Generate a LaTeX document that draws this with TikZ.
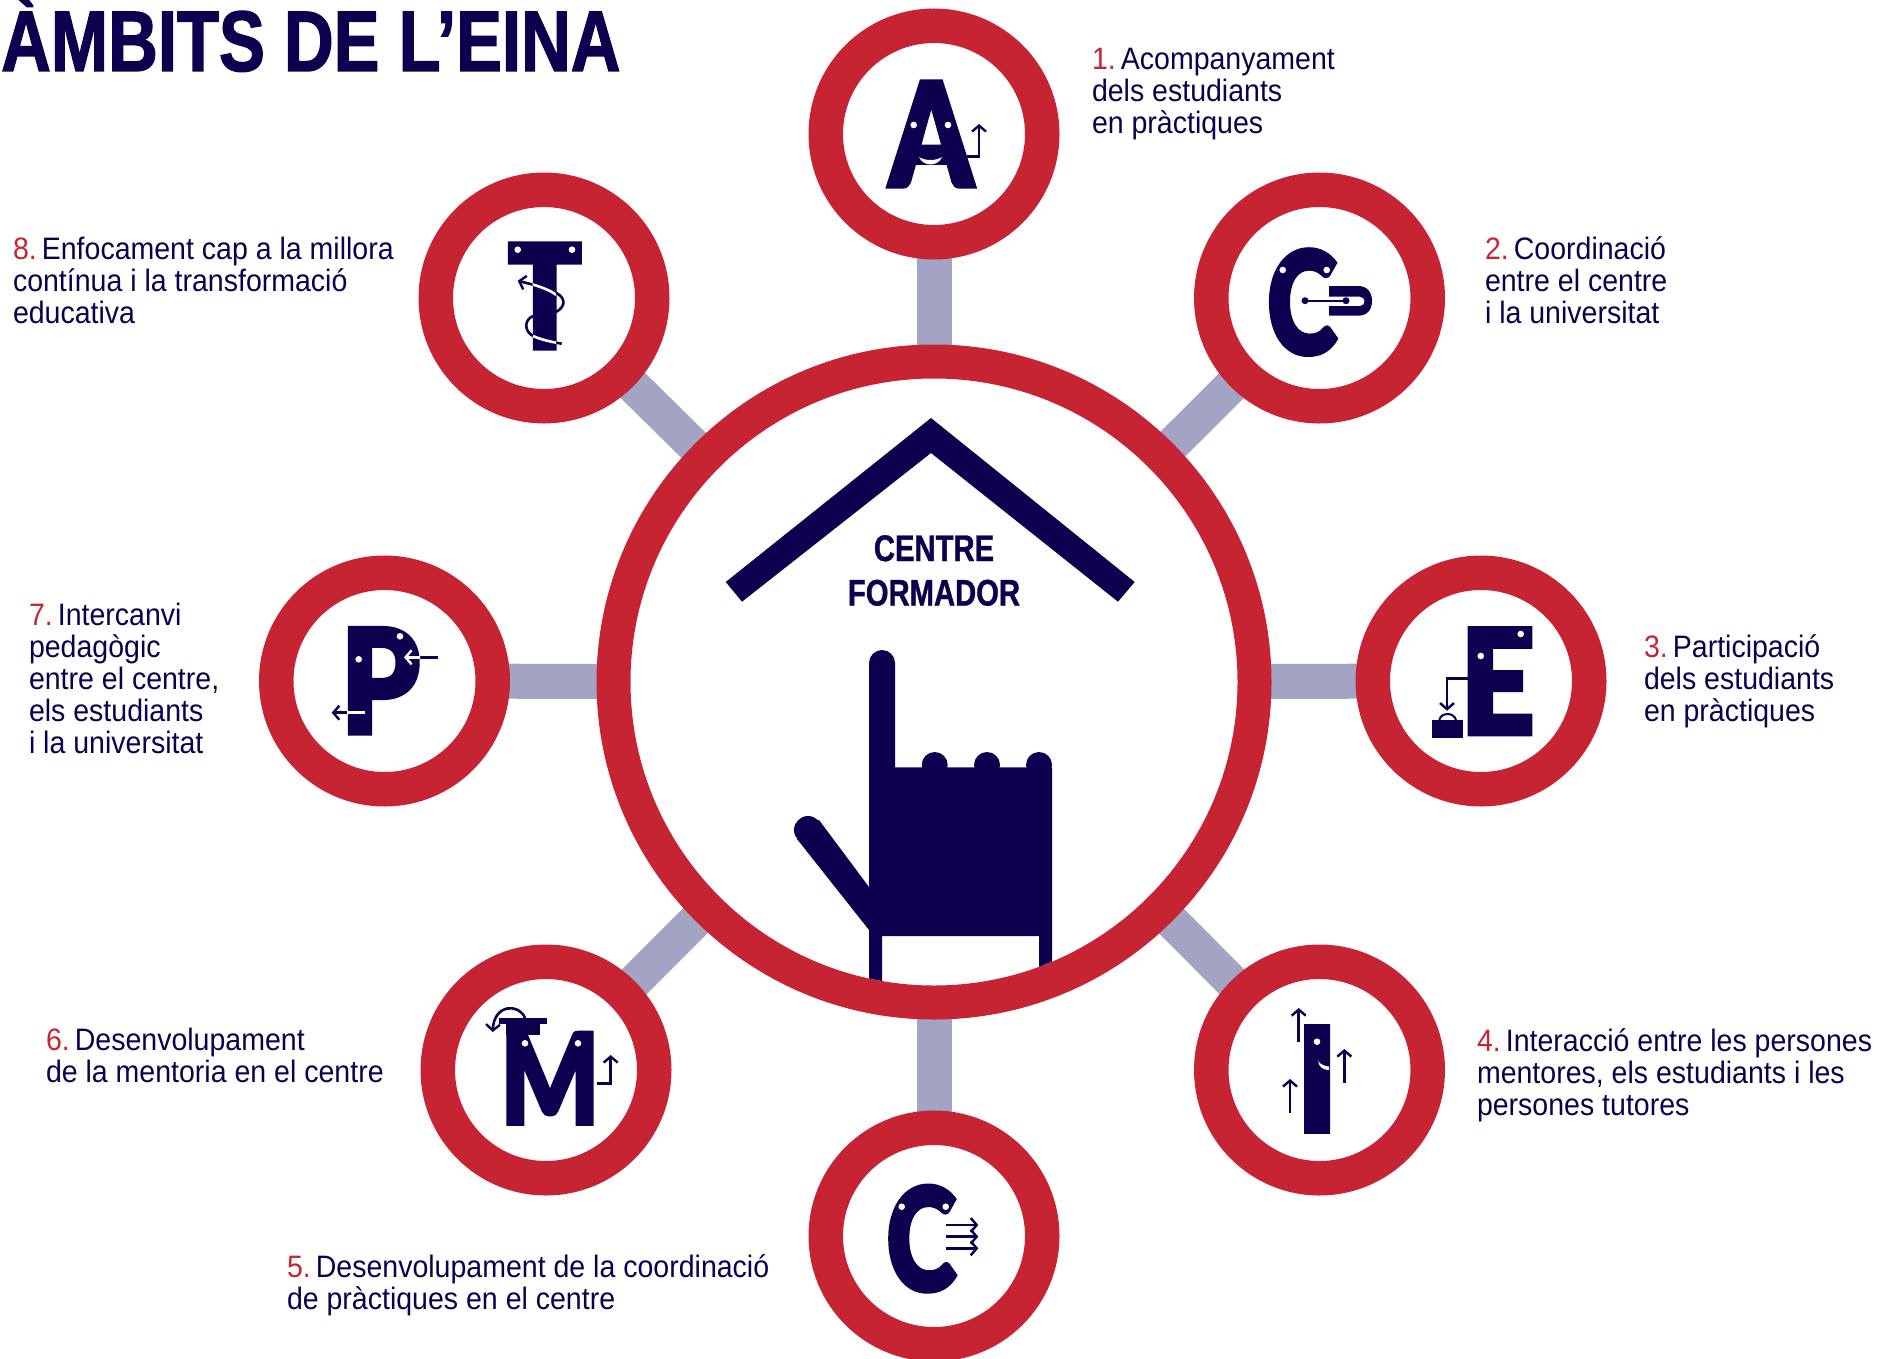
\documentclass[tikz,border=0pt]{standalone}
\usepackage{fontspec}
\usepackage{graphicx}
\usetikzlibrary{arrows.meta,backgrounds}
\setmainfont[FakeStretch=0.92]{Liberation Sans}
\newfontface\titlef[FakeStretch=0.8,FakeBold=1.5]{Liberation Sans Bold}
\newfontface\hubf[FakeStretch=0.79,FakeBold=1]{Liberation Sans Bold}
\IfFontExistsTF{Fira Sans Heavy}{\newfontface\iconf[FakeBold=2.5]{Fira Sans Heavy}}{%
\IfFontExistsTF{Lato Black}{\newfontface\iconf[FakeBold=2.5]{Lato Black}}{\newfontface\iconf[FakeBold=2.5]{Liberation Sans Bold}}}
\definecolor{navy}{HTML}{0C004F}
\definecolor{ringred}{HTML}{C62433}
\definecolor{spoke}{HTML}{A3A3C3}
\newcommand{\num}[1]{\textcolor{ringred}{#1}\kern-5.5pt\relax}
\newcommand{\letterbox}[3]{\resizebox{#1pt}{#2pt}{\iconf #3}}
\tikzset{
  ring/.style={circle,draw=ringred,fill=white,line width=34.5pt,minimum size=216.5pt,inner sep=0pt,outer sep=0pt},
  hubring/.style={circle,draw=ringred,fill=white,line width=34pt,minimum size=641pt,inner sep=0pt,outer sep=0pt},
  spokeline/.style={draw=spoke,line width=35pt},
  label/.style={anchor=base west,align=left,inner sep=0pt,outer sep=0pt,text=navy,font=\fontsize{31}{32}\selectfont},
  glyph/.style={anchor=north west,inner sep=0pt,outer sep=0pt,text=navy},
  thin arrow/.style={draw=navy,line width=2.6pt,-{Straight Barb[length=6pt,width=14pt,line width=2.4pt]}},
}
\begin{document}
\begin{tikzpicture}[x=1pt,y=-1pt]
\useasboundingbox (0,0) rectangle (1897,1359);
% rings
\node[hubring] (hub) at (934,682) {};
\node[ring] (a) at (934,134) {};
\node[ring] (c2) at (1319.5,298) {};
\node[ring] (e) at (1481,681) {};
\node[ring] (i) at (1319.5,1070) {};
\node[ring] (c5) at (934,1236) {};
\node[ring] (m) at (546,1070) {};
\node[ring] (p) at (384.5,681) {};
\node[ring] (t) at (544,298) {};
\begin{scope}[on background layer]
\foreach \n in {a,c2,e,i,c5,m,p,t} \draw[spokeline] (hub.center) -- (\n.center);
\end{scope}
% roof
\fill[navy] (931,418) -- (1134.7,582) -- (1118,601.7) -- (931,453) -- (742,601.7) -- (725.7,582) -- cycle;
\node[anchor=base,inner sep=0pt,text=navy,font=\hubf\fontsize{37}{37}\selectfont] (hubt1) at (934,561) {CENTRE};
\node[anchor=base,inner sep=0pt,text=navy,font=\hubf\fontsize{37}{37}\selectfont] (hubt2) at (934,605.5) {FORMADOR};
% hand
\fill[navy] (895,767.4)--(1052,767.4)--(1052,961.6)--(1039,966.8)--(1039,936)--(882,936)--(882,981)--(869,978.5)--(869,930)--(797,839)--(819,820)--(869,887)--(869,663)--(895,663)--cycle;
\fill[navy] (882,663) circle[radius=13];
\fill[navy] (934.7,765) circle[radius=13];
\fill[navy] (987,765) circle[radius=13];
\fill[navy] (1039,765) circle[radius=13];
\fill[navy] (808,830) circle[radius=14];
% title
\node[anchor=base west,inner sep=0pt,text=navy,font=\titlef\fontsize{86}{86}\selectfont] (title) at (1,71) {ÀMBITS DE L’EINA};
% labels
\node[label] (l1) at (1092,134) {\num{1.} Acompanyament\\dels estudiants\\en pràctiques};
\node[label] (l2) at (1485,323) {\num{2.} Coordinació\\entre el centre\\i la universitat};
\node[label] (l3) at (1644,721) {\num{3.} Participació\\dels estudiants\\en pràctiques};
\node[label] (l4) at (1477,1115) {\num{4.} Interacció entre les persones\\mentores, els estudiants i les\\persones tutores};
\node[label] (l5) at (287,1309) {\num{5.} Desenvolupament de la coordinació\\de pràctiques en el centre};
\node[label] (l6) at (46,1082) {\num{6.} Desenvolupament\\de la mentoria en el centre};
\node[label] (l7) at (29,753) {\num{7.} Intercanvi\\pedagògic\\entre el centre,\\els estudiants\\i la universitat};
\node[label] (l8) at (13,323) {\num{8.} Enfocament cap a la millora\\contínua i la transformació\\educativa};
% icon A
\node[glyph] (ga) at (889,81.2) {\letterbox{84.5}{105.6}{A}};
\fill[white] (913.7,125) circle[radius=3.3] (948,125) circle[radius=3.3];
\fill[white] (919,157) .. controls (925,161) and (936,161) .. (942,157) .. controls (938,167) and (923,167) .. (919,157) -- cycle;
\draw[thin arrow] (967,156.7) -- (979,156.7) -- (979,124);
% icon C2
\node[glyph] (gc2) at (1267,249) {\letterbox{70}{105}{C}};
\fill[white] (1282.7,270) circle[radius=3.3] (1326.7,270) circle[radius=3.3];
\fill[white] (1326,282) rectangle (1345,319);
\fill[navy] (1329,286) -- (1358,286) .. controls (1367,286) and (1372,292) .. (1372,301) .. controls (1372,310) and (1367,315.7) .. (1358,315.7) -- (1329,315.7) -- (1329,306) -- (1360,306) .. controls (1366,306) and (1366,296.7) .. (1360,296.7) -- (1329,296.7) -- cycle;
\draw[navy,line width=2pt] (1305,300.7) -- (1346,300.7);
\fill[navy] (1305,300.7) circle[radius=3.5] (1346,300.7) circle[radius=3.5];
% icon E
\node[glyph] (ge) at (1460,628) {\letterbox{75}{106.5}{E}};
\fill[white] (1480.7,656) circle[radius=3.3] (1520.7,634) circle[radius=3.3];
\draw[thin arrow] (1470,678.3) -- (1447,678.3) -- (1447,710.7);
\fill[navy] (1431.7,720) rectangle (1463,737.7);
\draw[navy,line width=2pt] (1439.3,720) .. controls (1441,712) and (1454,712) .. (1456,720);
% icon I
\node[glyph] (gi) at (1296.3,1026) {\letterbox{41.5}{106}{I}};
\fill[white] (1317,1041.7) circle[radius=3.3];
\fill[white] (1318,1061) .. controls (1321,1065) and (1325,1066) .. (1329,1066.5) -- (1329,1070) .. controls (1323,1070) and (1319,1067) .. (1318,1061) -- cycle;
\draw[thin arrow] (1298.7,1041.7) -- (1298.7,1008);
\draw[thin arrow] (1344.3,1082.7) -- (1344.3,1049);
\draw[thin arrow] (1290,1112.7) -- (1290,1079);
% icon C5
\node[glyph] (gc5) at (886.3,1185.3) {\letterbox{70}{105.4}{C}};
\fill[white] (901.7,1206.7) circle[radius=3.3] (945.7,1206.7) circle[radius=3.3];
\foreach \yy in {1225,1236.7,1248.3} \draw[thin arrow] (945.7,\yy) -- (978.3,\yy);
% icon M
\node[glyph] (gm) at (500.5,1032.3) {\letterbox{99}{92}{M}};
\fill[navy] (506,1018.3) rectangle (540,1035);
\fill[navy] (499,1018.3) rectangle (547.3,1024);
\fill[white] (525,1043.3) circle[radius=3.3] (578,1043.3) circle[radius=3.3];
\draw[thin arrow] (525,1018) .. controls (519,1003) and (494,1004) .. (492.7,1032);
\draw[thin arrow] (596.7,1083.3) -- (610.7,1083.3) -- (610.7,1055);
% icon P
\node[glyph] (gp) at (340.6,627.7) {\letterbox{79.5}{106}{P}};
\fill[white] (358.7,659.3) circle[radius=3.3] (400,636.3) circle[radius=3.3];
\draw[thin arrow] (438,657.3) -- (404,657.3);
\draw[thin arrow] (365.3,712.7) -- (331.7,712.7);
\begin{scope}
\clip (347,600) rectangle (420,740);
\draw[white,line width=2.6pt,-{Straight Barb[length=6pt,width=14pt,line width=2.4pt]}] (438,657.3) -- (404,657.3);
\draw[white,line width=2.6pt] (365.3,712.7) -- (331.7,712.7);
\end{scope}
% icon T
\node[glyph] (gt) at (507.5,243.3) {\letterbox{74.5}{105.4}{T}};
\fill[white] (517.7,249.7) circle[radius=3.3] (572,249.7) circle[radius=3.3];
\draw[thin arrow] (556,312) .. controls (567,306) and (566,296) .. (552,291) .. controls (540,286) and (530,284) .. (517.7,280.7);
\draw[navy,line width=2.6pt] (533,316) .. controls (524,320) and (524,331) .. (533,336) .. controls (542,340) and (552,342) .. (561.7,343.7);
\begin{scope}
\clip (532.7,270) rectangle (556,352);
\draw[white,line width=2.6pt] (556,295) .. controls (552,291) and (540,286) .. (520,281);
\draw[white,line width=2.6pt] (533,336) .. controls (542,340) and (552,342) .. (561.7,343.7);
\end{scope}
\end{tikzpicture}
\end{document}
